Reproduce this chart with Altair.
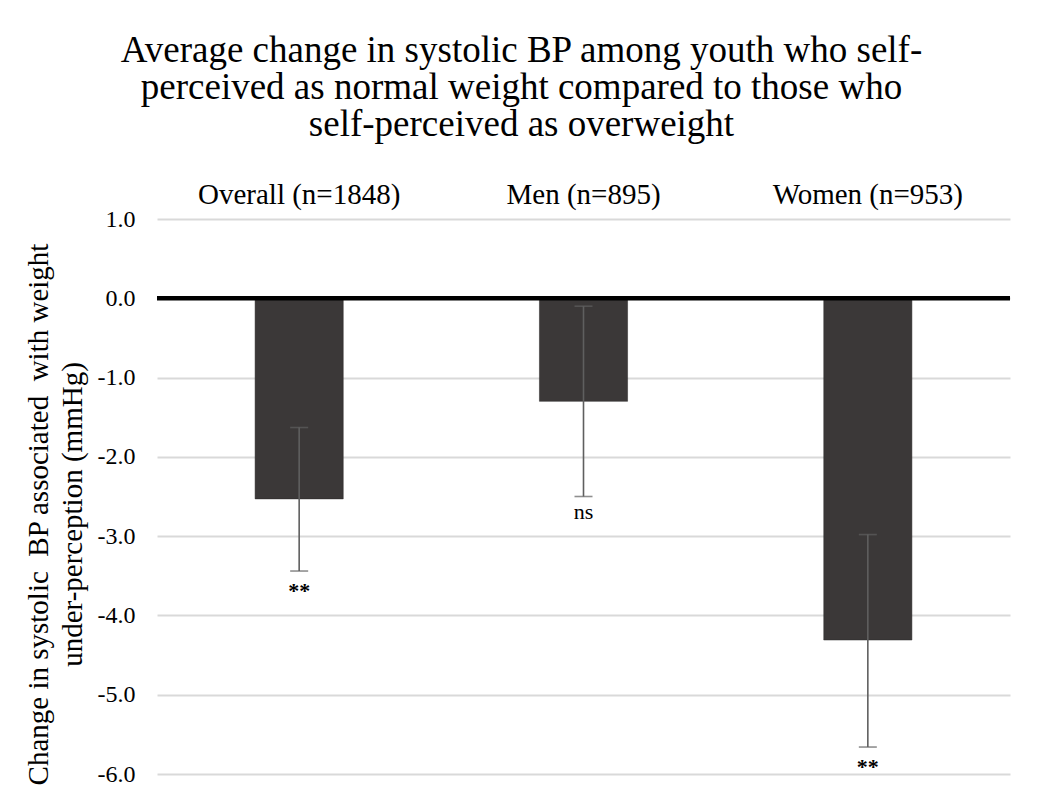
import altair as alt
import pandas as pd

groups = ["Overall (n=1848)", "Men (n=895)", "Women (n=953)"]
means = [-2.53, -1.30, -4.31]
ci_upper = [-1.63, -0.10, -2.98]
ci_lower = [-3.44, -2.50, -5.66]
sig = ["**", "ns", "**"]

df = pd.DataFrame({"group": groups, "mean": means, "hi": ci_upper, "lo": ci_lower, "sig": sig})
zero_df = pd.DataFrame({"y": [0.0]})

FONT = "Liberation Serif"
BAR = "#3b3838"
ERR = "#5f5f5f"

x_enc = alt.X("group:N", sort=groups,
              scale=alt.Scale(paddingInner=0.69, paddingOuter=0.345),
              axis=alt.Axis(orient="top", title=None, ticks=False, domain=False, grid=False,
                            labelFont=FONT, labelFontSize=29, labelColor="#000000",
                            labelPadding=10, labelAngle=0, labelLimit=500))
y_scale = alt.Scale(domain=[-6, 1], nice=False, zero=False)

bars = alt.Chart(df).mark_bar(color=BAR, stroke="#2a2828", strokeWidth=0.5).encode(
    x=x_enc,
    y=alt.Y("mean:Q", scale=y_scale,
            axis=alt.Axis(values=[1, 0, -1, -2, -3, -4, -5, -6], format=".1f",
                          labelExpr="replace(datum.label, '\u2212', '-')",
                          grid=True, gridColor="#d9d9d9", gridWidth=2,
                          domain=False, ticks=False,
                          labelFont=FONT, labelFontSize=24, labelColor="#000000",
                          labelPadding=22,
                          title=["Change in systolic\u00a0\u00a0BP associated\u00a0\u00a0with weight",
                                 "under-perception (mmHg)"],
                          titleFont=FONT, titleFontSize=29, titleFontWeight="normal",
                          titleColor="#000000", titleLineHeight=34,
                          titleBaseline="top", titleX=-133, titleY=295)),
    y2=alt.datum(0),
)

zero = alt.Chart(zero_df).mark_rule(color="#000000", strokeWidth=4.5).encode(
    y=alt.Y("y:Q", scale=y_scale)
)

err = alt.Chart(df).mark_rule(color=ERR, strokeWidth=1.6).encode(
    x=alt.X("group:N", sort=groups),
    y=alt.Y("lo:Q", scale=y_scale),
    y2="hi:Q",
)
cap_hi = alt.Chart(df).mark_tick(color=ERR, size=18, thickness=1.6, orient="horizontal").encode(
    x=alt.X("group:N", sort=groups),
    y=alt.Y("hi:Q", scale=y_scale),
)
cap_lo = alt.Chart(df).mark_tick(color=ERR, size=18, thickness=1.6, orient="horizontal").encode(
    x=alt.X("group:N", sort=groups),
    y=alt.Y("lo:Q", scale=y_scale),
)
stars = alt.Chart(df).transform_filter("datum.sig == '**'").mark_text(
    font=FONT, fontSize=22, fontWeight="bold", color="#000000", baseline="top", dy=10
).encode(
    x=alt.X("group:N", sort=groups),
    y=alt.Y("lo:Q", scale=y_scale),
    text="sig:N",
)
ns = alt.Chart(df).transform_filter("datum.sig != '**'").mark_text(
    font=FONT, fontSize=22, color="#000000", baseline="top", dy=5
).encode(
    x=alt.X("group:N", sort=groups),
    y=alt.Y("lo:Q", scale=y_scale),
    text="sig:N",
)

chart = alt.layer(bars, zero, err, cap_hi, cap_lo, stars, ns).properties(
    width=853, height=555,
    autosize=alt.AutoSizeParams(type="none"),
    padding={"left": 149, "top": 211, "right": 30, "bottom": 20},
    title=alt.TitleParams(
        text=["Average change in systolic BP among youth who self-",
              "perceived as normal weight compared to those who",
              "self-perceived as overweight"],
        font=FONT, fontSize=37, fontWeight="normal", color="#000000",
        lineHeight=37, anchor="middle", offset=36, dx=-62,
    ),
).configure(background="#ffffff").configure_view(strokeWidth=0, stroke="transparent")

chart.save("out.html", embed_options={"renderer": "svg", "actions": False})
